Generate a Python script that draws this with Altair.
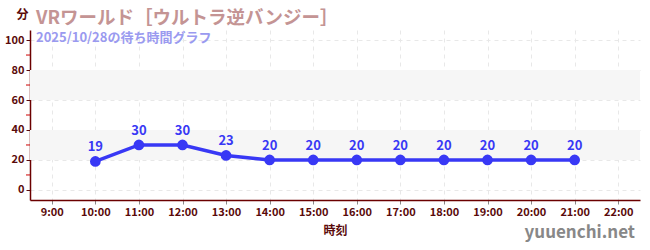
import altair as alt
import pandas as pd

hours = [10, 11, 12, 13, 14, 15, 16, 17, 18, 19, 20, 21]
waits = [19, 30, 30, 23, 20, 20, 20, 20, 20, 20, 20, 20]
x_ticks = list(range(9, 23))
y_ticks = [0, 20, 40, 60, 80, 100]
minor_ticks = [10, 30, 50, 70, 90]
band_lo = [20, 60]
band_hi = [40, 80]

FONT = "Noto Sans CJK JP"
BLUE = "#3838f5"
MAROON = "#5a0a0a"

df = pd.DataFrame({"hour": hours, "wait": waits})
bands = pd.DataFrame({"lo": band_lo, "hi": band_hi})
minor = pd.DataFrame({"v": minor_ticks})

xs = alt.Scale(domain=[8.5, 22.5], nice=False, zero=False)
ys = alt.Scale(domain=[-6.7, 106.7], nice=False, zero=False)

xaxis = alt.Axis(
    values=x_ticks,
    labelExpr="datum.value + ':00'",
    title="時刻",
    titleFont=FONT, titleFontSize=12, titleFontWeight="bold", titleColor=MAROON,
    titlePadding=8,
    labelFont=FONT, labelFontSize=11, labelFontWeight="bold", labelColor=MAROON,
    labelOverlap=False,
    domainColor="#6b0000", domainWidth=1.5,
    tickColor="#888888", tickSize=4,
    grid=True, gridColor="#e8e8e8", gridDash=[4, 4],
)
yaxis = alt.Axis(
    values=y_ticks,
    title="分",
    titleAngle=0, titleX=-8, titleY=-9, titleAlign="center",
    titleFont=FONT, titleFontSize=12, titleFontWeight="bold", titleColor=MAROON,
    labelFont=FONT, labelFontSize=11, labelFontWeight="bold", labelColor=MAROON,
    labelOverlap=False,
    domainColor="#6b0000", domainWidth=1.5,
    tickColor=MAROON, tickSize=4,
    grid=True, gridColor="#e8e8e8", gridDash=[4, 4],
)

band_layer = alt.Chart(bands).mark_rect(color="#f6f6f6").encode(
    y=alt.Y("lo:Q", scale=ys, axis=yaxis),
    y2="hi:Q",
)

base = alt.Chart(df).encode(
    x=alt.X("hour:Q", scale=xs, axis=xaxis),
    y=alt.Y("wait:Q", scale=ys, axis=yaxis),
)
line = base.mark_line(color=BLUE, strokeWidth=3.5)
pts = base.mark_circle(color=BLUE, size=115, opacity=1)
labels = base.mark_text(
    color=BLUE, font=FONT, fontSize=13, fontWeight="bold", dy=-14
).encode(text="wait:Q")

minor_layer = alt.Chart(minor).mark_rule(color="#cc0000", strokeWidth=1).encode(
    y=alt.Y("v:Q", scale=ys, axis=yaxis),
    x=alt.value(-4),
    x2=alt.value(0),
)

watermark = alt.Chart(pd.DataFrame({"t": ["yuuenchi.net"]})).mark_text(
    font=FONT, fontSize=17, fontWeight="bold", color="#888888",
    align="right", baseline="middle"
).encode(text="t:N", x=alt.value(605), y=alt.value(33 + 170))

chart = alt.layer(band_layer, line, pts, labels, minor_layer, watermark).properties(
    width=610,
    height=170,
    padding={"left": 30, "top": 30, "right": 10, "bottom": 50},
    autosize="none",
    background="white",
    title=alt.TitleParams(
        text="VRワールド［ウルトラ逆バンジー］",
        subtitle="\u20022025/10/28の待ち時間グラフ",
        anchor="start",
        frame="group",
        font=FONT, fontSize=18.5, fontWeight="bold", color="#c49494",
        subtitleFont=FONT, subtitleFontSize=13, subtitleFontWeight="bold",
        subtitleColor="#9a9af0", subtitlePadding=5,
        offset=-37, dx=6,
    ),
).configure_view(stroke=None)

chart.save("out.html", embed_options={"renderer": "svg", "actions": False})
